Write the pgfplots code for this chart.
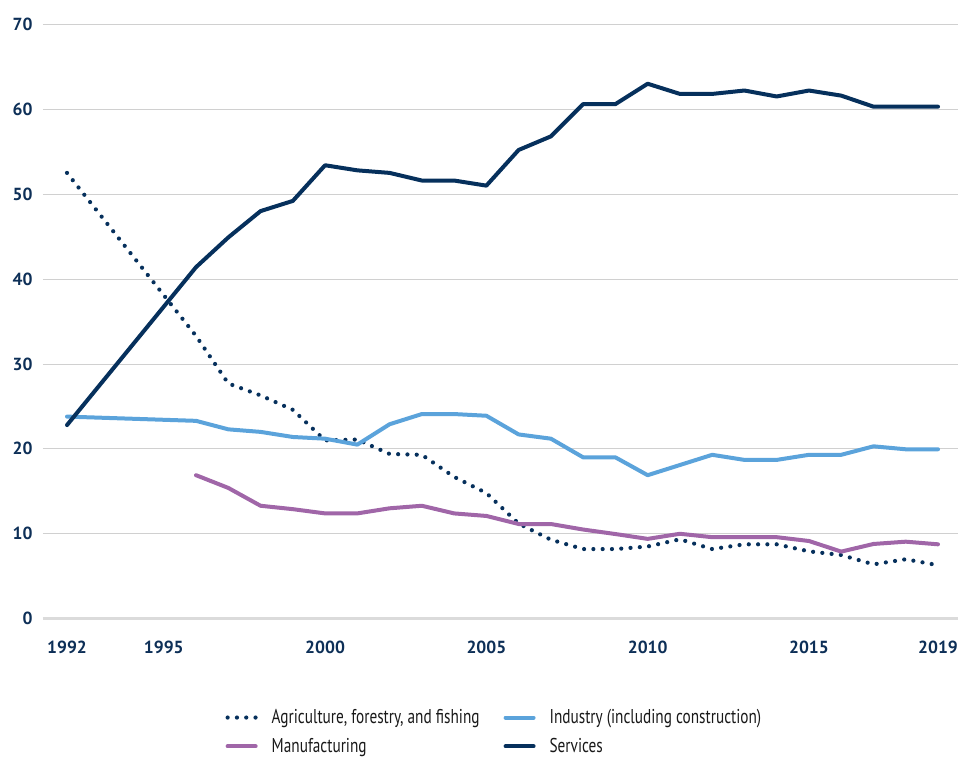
\documentclass[border=0pt]{standalone}
\usepackage{fontspec}
\setmainfont{PT Sans}
\newfontfamily\legfont[FakeStretch=0.764]{PT Sans}
\usepackage{pgfplots}
\pgfplotsset{compat=1.18}
\definecolor{navy}{HTML}{06305C}
\definecolor{ticknavy}{HTML}{0D2F57}
\definecolor{indblue}{HTML}{5BA3DB}
\definecolor{manpurple}{HTML}{A066A8}
\definecolor{gridgray}{HTML}{D0D0D0}
\begin{document}
\begin{tikzpicture}[x=1pt,y=1pt]
\path[use as bounding box] (0,0) rectangle (958,760);
\begin{axis}[
  at={(43pt,141.3pt)}, anchor=south west,
  scale only axis, width=915pt, height=594.4pt,
  xmin=1991.256, xmax=2019.62, ymin=0, ymax=70,
  axis line style={draw=none},
  major tick length=0pt,
  xtick={1992,1995,2000,2005,2010,2015,2019},
  ytick={10,20,...,70},
  extra y ticks={0},
  extra y tick style={grid style={line width=3pt, color=gray!28}},
  ymajorgrids,
  grid style={line width=0.9pt, color=gridgray},
  /pgf/number format/assume math mode=true,
  /pgf/number format/1000 sep={},
  tick label style={font=\bfseries\fontsize{17.5}{19}\selectfont, text=ticknavy},
  xticklabel style={yshift=-19pt},
  yticklabel style={xshift=-7pt},
  clip=false,
  legend columns=2,
  legend cell align=left,
  legend style={at={(axis description cs:0.196,-0.146)}, anchor=north west,
    draw=none, fill=none, font=\legfont\fontsize{20}{22}\selectfont, text=black!90,
    /tikz/every even column/.append style={column sep=22pt},
    row sep=9pt},
  legend image code/.code={\draw[#1] (0pt,0pt) -- (28pt,0pt); \path (40pt,0pt);},
  line join=round,
]
\addplot[navy, line width=4.2pt, dash pattern=on 0pt off 9.3pt, line cap=round] coordinates {
(1992,52.5)(1996,33.3)(1997,27.7)(1998,26.3)(1999,24.6)(2000,21.0)(2001,21.1)(2002,19.4)(2003,19.3)(2004,16.7)(2005,14.8)(2006,11.2)(2007,9.3)(2008,8.2)(2009,8.2)(2010,8.5)(2011,9.35)(2012,8.2)(2013,8.76)(2014,8.76)(2015,7.93)(2016,7.5)(2017,6.4)(2018,7.0)(2019,6.3)};
\addlegendentry{Agriculture, forestry, and fishing}
\addplot[indblue, line width=4pt, line cap=round] coordinates {
(1992,23.8)(1996,23.3)(1997,22.3)(1998,22.0)(1999,21.4)(2000,21.2)(2001,20.5)(2002,22.9)(2003,24.1)(2004,24.1)(2005,23.9)(2006,21.7)(2007,21.2)(2008,19.0)(2009,19.0)(2010,16.9)(2011,18.1)(2012,19.3)(2013,18.7)(2014,18.7)(2015,19.3)(2016,19.3)(2017,20.3)(2018,19.95)(2019,19.95)};
\addlegendentry{Industry (including construction)}
\addplot[manpurple, line width=4pt, line cap=round] coordinates {
(1996,16.9)(1997,15.4)(1998,13.3)(1999,12.9)(2000,12.4)(2001,12.4)(2002,13.0)(2003,13.3)(2004,12.4)(2005,12.1)(2006,11.15)(2007,11.15)(2008,10.5)(2009,9.97)(2010,9.4)(2011,10.0)(2012,9.6)(2013,9.6)(2014,9.6)(2015,9.15)(2016,7.9)(2017,8.8)(2018,9.07)(2019,8.76)};
\addlegendentry{Manufacturing}
\addplot[navy, line width=4pt, line cap=round] coordinates {
(1992,22.8)(1996,41.4)(1997,44.9)(1998,48.0)(1999,49.2)(2000,53.4)(2001,52.8)(2002,52.5)(2003,51.6)(2004,51.6)(2005,51.0)(2006,55.2)(2007,56.8)(2008,60.6)(2009,60.6)(2010,63.0)(2011,61.8)(2012,61.8)(2013,62.2)(2014,61.5)(2015,62.2)(2016,61.6)(2017,60.3)(2018,60.3)(2019,60.3)};
\addlegendentry{Services}
\end{axis}
\end{tikzpicture}
\end{document}
